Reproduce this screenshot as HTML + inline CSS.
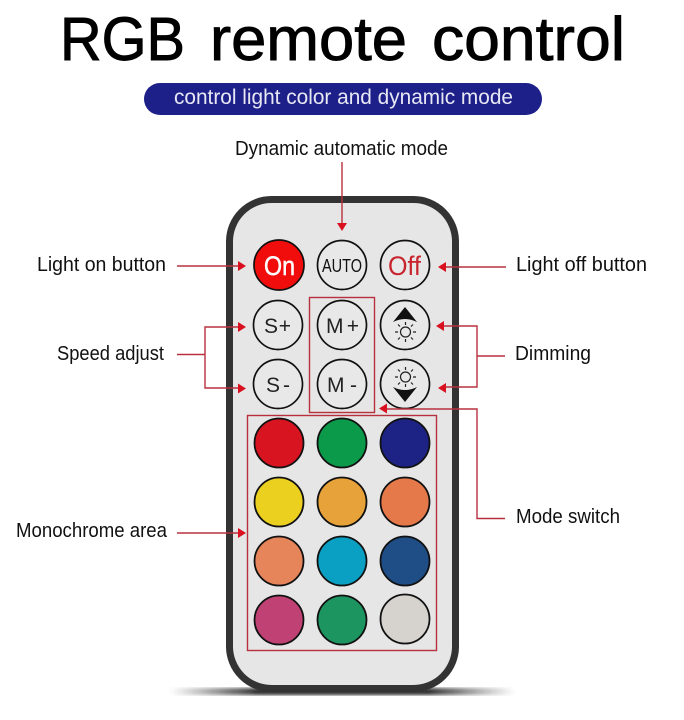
<!DOCTYPE html>
<html><head><meta charset="utf-8"><style>
html,body{margin:0;padding:0;background:#fff;width:684px;height:720px;overflow:hidden}
svg{display:block}
text{font-family:"Liberation Sans",sans-serif}
</style></head><body>
<svg width="684" height="720" viewBox="0 0 684 720" xmlns="http://www.w3.org/2000/svg">
<defs>
<linearGradient id="sh" x1="0" x2="1" y1="0" y2="0"><stop offset="0" stop-color="#555" stop-opacity="0"/><stop offset=".25" stop-color="#333"/><stop offset=".75" stop-color="#333"/><stop offset="1" stop-color="#555" stop-opacity="0"/></linearGradient>
<filter id="b"><feGaussianBlur stdDeviation="1.6"/></filter>
</defs>
<g font-size="61" fill="#000" stroke="#000" stroke-width=".9">
<text x="60" y="60" textLength="125" lengthAdjust="spacingAndGlyphs">RGB</text>
<text x="210" y="60" textLength="197" lengthAdjust="spacingAndGlyphs">remote</text>
<text x="432" y="60" textLength="193" lengthAdjust="spacingAndGlyphs">control</text>
</g>
<rect x="144" y="83" width="398" height="32" rx="16" fill="#1d2089"/>
<text x="174" y="104" font-size="21" textLength="339" lengthAdjust="spacingAndGlyphs" fill="#e8e8f4">control light color and dynamic mode</text>

<rect x="170" y="688" width="345" height="7" fill="url(#sh)" filter="url(#b)"/>
<rect x="229.500" y="199.500" width="226" height="489" rx="42" fill="#e6e6e6" stroke="#333" stroke-width="7"/>

<g fill="none" stroke="#111" stroke-width="1.700">
<circle cx="279" cy="265" r="25" fill="#f20d0d"/>
<circle cx="342" cy="265" r="24.500" fill="#e8e8e8"/>
<circle cx="405" cy="265" r="24.500" fill="#e8e8e8"/>
<circle cx="278" cy="325" r="24.500" fill="#e8e8e8"/>
<circle cx="342" cy="325" r="24.500" fill="#e8e8e8"/>
<circle cx="405" cy="325" r="24.500" fill="#e8e8e8"/>
<circle cx="278" cy="384" r="24.500" fill="#e8e8e8"/>
<circle cx="342" cy="384" r="24.500" fill="#e8e8e8"/>
<circle cx="405" cy="384" r="24.500" fill="#e8e8e8"/>
</g>
<g stroke="#111" stroke-width="1.800">
<circle cx="279" cy="443" r="24.500" fill="#d7141f"/>
<circle cx="342" cy="443" r="24.500" fill="#0a9a4a"/>
<circle cx="405" cy="443" r="24.500" fill="#1c2385"/>
<circle cx="279" cy="502" r="24.500" fill="#ecd01f"/>
<circle cx="342" cy="502" r="24.500" fill="#e8a23a"/>
<circle cx="405" cy="502" r="24.500" fill="#e5794a"/>
<circle cx="279" cy="561" r="24.500" fill="#e6845a"/>
<circle cx="342" cy="561" r="24.500" fill="#0aa0c4"/>
<circle cx="405" cy="561" r="24.500" fill="#1f4d85"/>
<circle cx="279" cy="620" r="24.500" fill="#c04275"/>
<circle cx="342" cy="620" r="24.500" fill="#1c9560"/>
<circle cx="405" cy="619" r="24.500" fill="#d6d3cf"/>
</g>

<text x="264" y="275" font-size="27" textLength="31" lengthAdjust="spacingAndGlyphs" fill="#fff" stroke="#fff" stroke-width=".5">On</text>
<text x="322" y="272" font-size="18" textLength="40" lengthAdjust="spacingAndGlyphs" fill="#111">AUTO</text>
<text x="388" y="275" font-size="27" textLength="33" lengthAdjust="spacingAndGlyphs" fill="#c8232c">Off</text>
<text x="264" y="333" font-size="21" textLength="27" lengthAdjust="spacing" fill="#222">S+</text>
<text x="326" y="333" font-size="21" textLength="33" lengthAdjust="spacing" fill="#222">M+</text>
<text x="266" y="392" font-size="21" textLength="24" lengthAdjust="spacing" fill="#222">S-</text>
<text x="327" y="392" font-size="21" textLength="30" lengthAdjust="spacing" fill="#222">M-</text>

<path d="M405 307l12 15q-12-6-24 0z" fill="#111"/>
<path d="M405 402l12-15q-12 6-24 0z" fill="#111"/>
<g fill="none" stroke="#222" stroke-width="1.200">
<circle cx="405.500" cy="332" r="5"/>
<path d="M405.500 322v3M405.500 339v3M395 332h3M413 332h3M398 324.500l2 2M411 337.500l2 2M413 324.500l-2 2M400 337.500l-2 2"/>
<circle cx="405.500" cy="377" r="5"/>
<path d="M405.500 367v3M405.500 384v3M395 377h3M413 377h3M398 369.500l2 2M411 382.500l2 2M413 369.500l-2 2M400 382.500l-2 2"/>
</g>

<g fill="none" stroke="#b8303e" stroke-width="1.400">
<rect x="309.500" y="297.500" width="65" height="115"/>
<rect x="247.500" y="415.500" width="189" height="235"/>
<path d="M342 162V225"/>
<path d="M177 266H240"/>
<path d="M177 354.500H205M240 327H205V388H240"/>
<path d="M177 533H240"/>
<path d="M506 267H444"/>
<path d="M505 356H477M442 326H477V387H444"/>
<path d="M385 409H477V518.500H505"/>
</g>
<g fill="#d8101f">
<path d="M342 231l-5-8h10z"/>
<path d="M246 266l-8-5v10z"/>
<path d="M246 327l-8-5v10z"/>
<path d="M246 388.500l-8-5v10z"/>
<path d="M246 533l-8-5v10z"/>
<path d="M438 267l8-5v10z"/>
<path d="M436 326l8-5v10z"/>
<path d="M438 388l8-5v10z"/>
<path d="M379 408.500l8-5v10z"/>
</g>

<g font-size="20" fill="#111">
<text x="235" y="155" textLength="213" lengthAdjust="spacingAndGlyphs">Dynamic automatic mode</text>
<text x="37" y="271" textLength="129" lengthAdjust="spacingAndGlyphs">Light on button</text>
<text x="57" y="360" textLength="107" lengthAdjust="spacingAndGlyphs">Speed adjust</text>
<text x="16" y="537" textLength="151" lengthAdjust="spacingAndGlyphs">Monochrome area</text>
<text x="516" y="271" textLength="131" lengthAdjust="spacingAndGlyphs">Light off button</text>
<text x="515" y="360" textLength="76" lengthAdjust="spacingAndGlyphs">Dimming</text>
<text x="516" y="523" textLength="104" lengthAdjust="spacingAndGlyphs">Mode switch</text>
</g>
</svg>
</body></html>
